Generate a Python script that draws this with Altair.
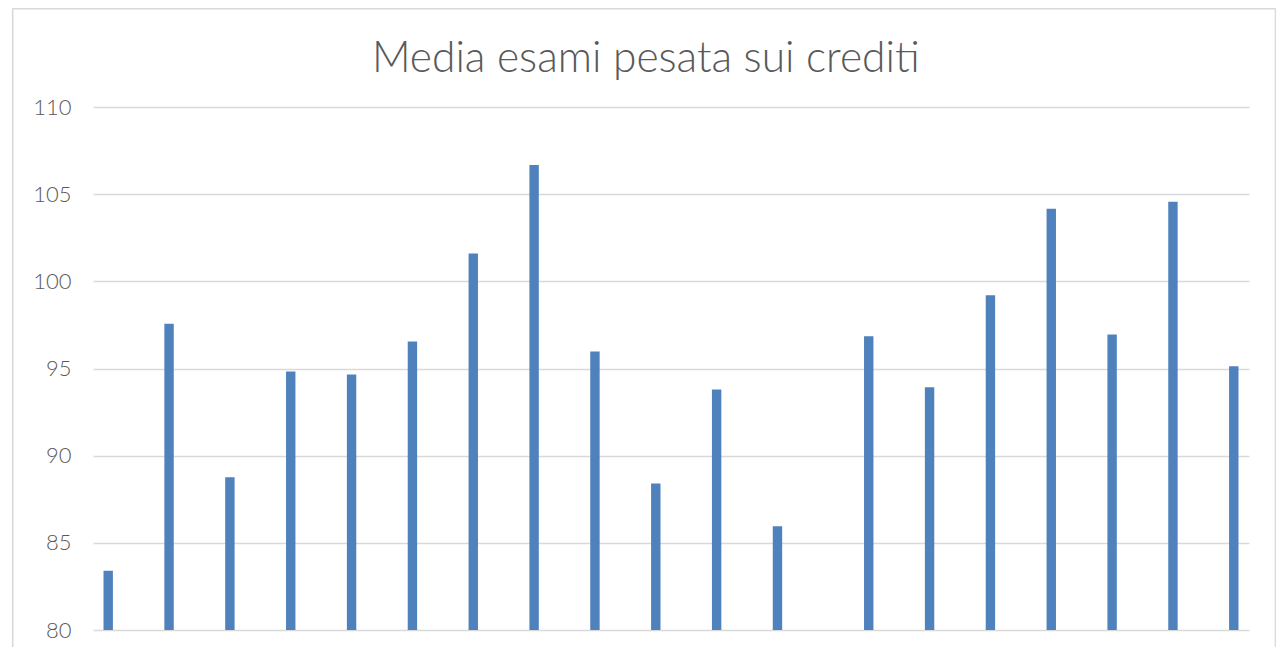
import altair as alt
import pandas as pd

# ---- data ----
categories = [str(i) for i in range(1, 20)]
series = ["Serie1"] * 12 + ["Serie2"] * 7
values = [83.4, 97.56, 88.76, 94.83, 94.66, 96.55, 101.6, 106.68, 95.97,
          88.40, 93.80, 85.95,
          96.85, 93.93, 99.2, 104.16, 96.95, 104.56, 95.13]
y_ticks = [80, 85, 90, 95, 100, 105, 110]
title_text = ["Media esami pesata sui crediti"]

df = pd.DataFrame({"cat": categories, "serie": series, "val": values})
tdf = pd.DataFrame({"t": title_text})

W, H = 1156, 523
FONT = "Lato"
GREY = "#595959"

bars = alt.Chart(df).mark_bar(size=9.4, clip=True, color="#4F81BD").encode(
    x=alt.X("cat:N", sort=None, axis=None,
            scale=alt.Scale(paddingInner=0, paddingOuter=0)),
    xOffset=alt.XOffset("serie:N", scale=alt.Scale(paddingInner=0, paddingOuter=0)),
    y=alt.Y("val:Q", scale=alt.Scale(domain=[80, 110], nice=False, zero=False),
            axis=alt.Axis(values=y_ticks, title=None, domain=False, ticks=False,
                          grid=True, gridColor="#d9d9d9", gridWidth=1.6,
                          labelFont=FONT, labelFontSize=22, labelColor=GREY,
                          labelFontWeight=300, labelPadding=22)),
)

title = alt.Chart(tdf).mark_text(
    align="center", baseline="alphabetic", font=FONT, fontSize=42.5,
    fontWeight=300, color=GREY
).encode(text="t:N", x=alt.value(552.8), y=alt.value(-35.5))

border_src = pd.DataFrame({"k": [0]})
left_border = alt.Chart(border_src).mark_rule(color="#d9d9d9", strokeWidth=1.6).encode(
    x=alt.value(-80.3), y=alt.value(-98.7), y2=alt.value(H + 20))
top_border = alt.Chart(border_src).mark_rule(color="#d9d9d9", strokeWidth=1.6).encode(
    x=alt.value(-80.3), x2=alt.value(1182.5), y=alt.value(-98.2))
right_border = alt.Chart(border_src).mark_rule(color="#d9d9d9", strokeWidth=1.6).encode(
    x=alt.value(1182.5), y=alt.value(-98.7), y2=alt.value(H + 20))

chart = alt.layer(bars, title, left_border, top_border, right_border).properties(
    width=W, height=H,
    background="white",
    autosize=alt.AutoSizeParams(type="none"),
    padding={"left": 85, "top": 99, "right": 27, "bottom": 17},
).configure_view(stroke=None, strokeWidth=0)

chart.save("out.html", embed_options={"renderer": "svg", "actions": False})
